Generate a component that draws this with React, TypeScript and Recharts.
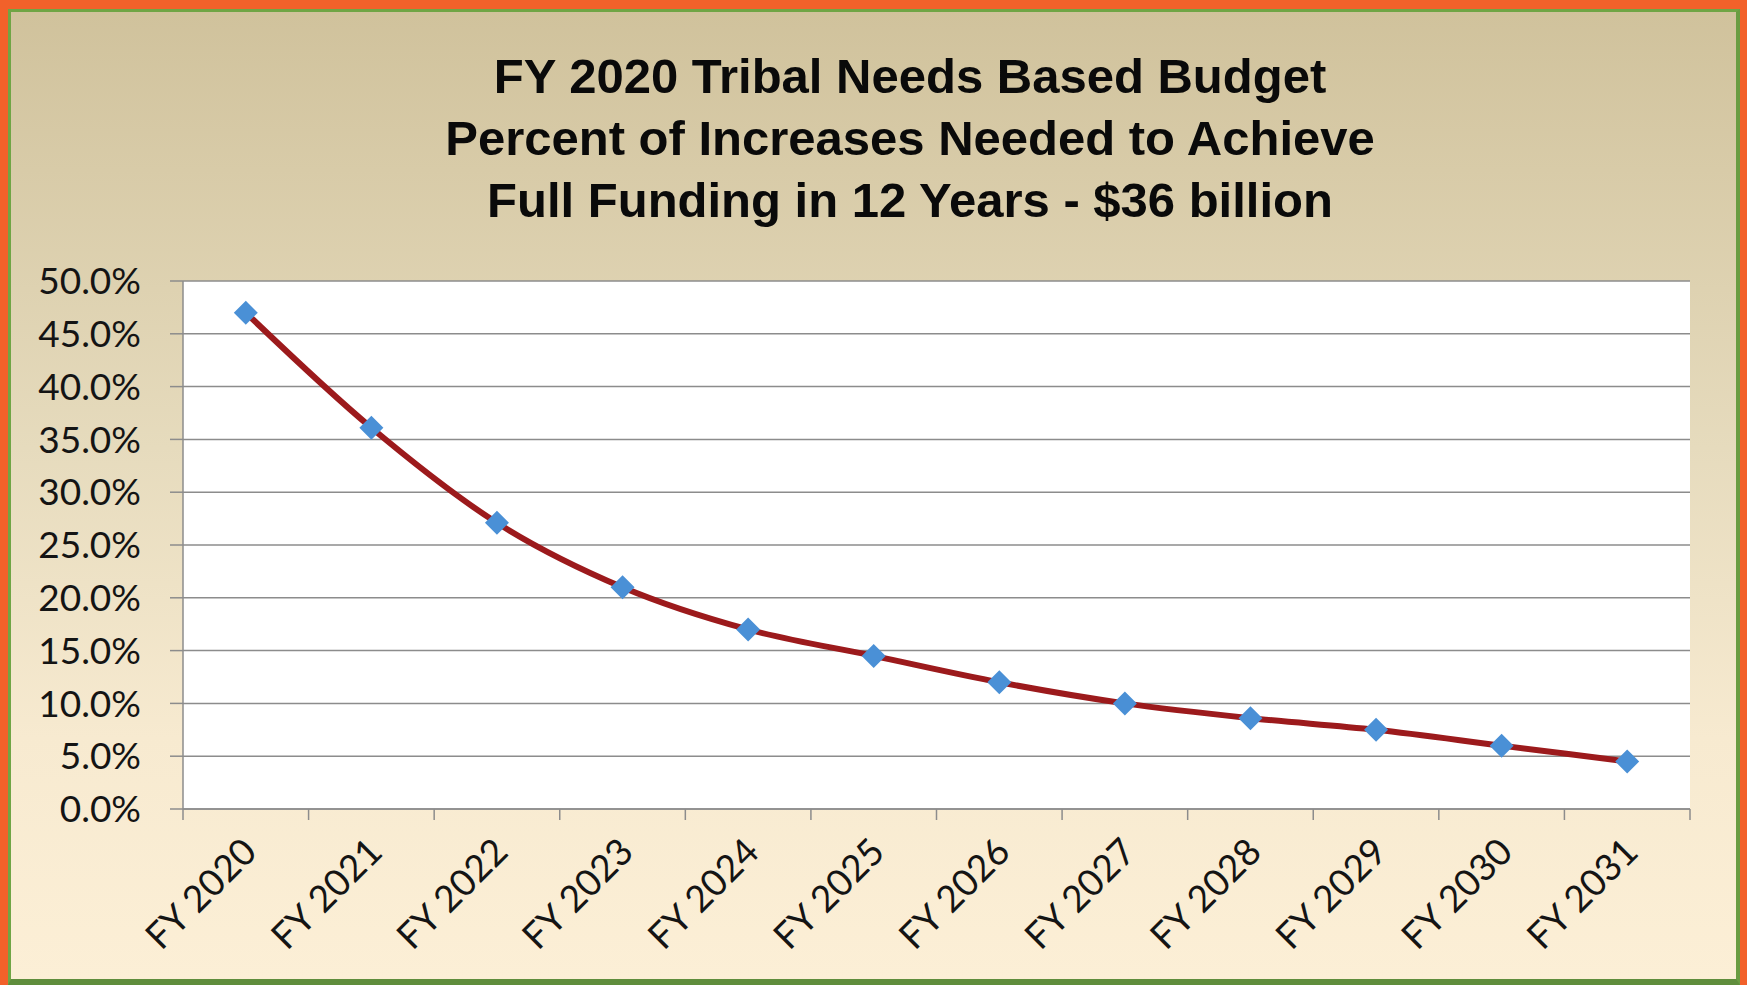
import React from 'react';
import { LineChart, Line, XAxis, YAxis, CartesianGrid } from 'recharts';

const years = [
  'FY 2020', 'FY 2021', 'FY 2022', 'FY 2023', 'FY 2024', 'FY 2025',
  'FY 2026', 'FY 2027', 'FY 2028', 'FY 2029', 'FY 2030', 'FY 2031',
];
const increasePct = [47.0, 36.1, 27.1, 21.0, 17.0, 14.5, 12.0, 10.0, 8.6, 7.5, 6.0, 4.5];
const yTicks = [0, 5, 10, 15, 20, 25, 30, 35, 40, 45, 50];
const titleLines = [
  'FY 2020 Tribal Needs Based Budget',
  'Percent of Increases Needed to Achieve',
  'Full Funding in 12 Years - $36 billion',
];

const data = years.map((year, i) => ({ year, pct: increasePct[i] }));

const W = 1747;
const H = 985;
const labelFont = 'Lato, "Open Sans", sans-serif';

const XTick = (props: any) => {
  const { x, y, payload, index } = props;
  const half = payload.offset ?? 0;
  const ax = x + 13;
  const ay = y + 45;
  return (
    <g>
      <line x1={x - half} y1={y} x2={x - half} y2={y + 11} stroke="#8c8c8c" strokeWidth={1.5} />
      {index === years.length - 1 && (
        <line x1={x + half} y1={y} x2={x + half} y2={y + 11} stroke="#8c8c8c" strokeWidth={1.5} />
      )}
      <text
        x={ax}
        y={ay}
        textAnchor="end"
        transform={`rotate(-45, ${ax}, ${ay})`}
        fontFamily={labelFont}
        fontSize={37}
        fill="#141414"
      >
        {payload.value}
      </text>
    </g>
  );
};

const Diamond = (props: any) => {
  const { cx, cy } = props;
  if (cx == null || cy == null) return null;
  const r = 12;
  return <path d={`M${cx},${cy - r}L${cx + r},${cy}L${cx},${cy + r}L${cx - r},${cy}Z`} fill="#4a90d6" />;
};

export default function App() {
  return (
    <div style={{ position: 'absolute', left: 0, top: 0, width: W, height: H, background: '#f2612a', overflow: 'hidden' }}>
      <div
        style={{
          position: 'absolute',
          left: 8,
          top: 9,
          right: 7,
          bottom: 0,
          borderLeft: '3px solid #6fa545',
          borderTop: '3px solid #6fa545',
          borderRight: '4px solid #6a9c42',
          borderBottom: '6px solid #5f8d3c',
          background: 'linear-gradient(to bottom, #d0c29c 0%, #e6dbbd 45%, #f7ead0 75%, #fcefd6 100%)',
        }}
      />
      <svg width={W} height={250} style={{ position: 'absolute', left: 0, top: 0 }}>
        {titleLines.map((t, i) => (
          <text
            key={t}
            x={910}
            y={93 + i * 62}
            textAnchor="middle"
            fontFamily='"Liberation Sans", Arial, sans-serif'
            fontWeight="bold"
            fontSize={49}
            fill="#0a0a0a"
          >
            {t}
          </text>
        ))}
      </svg>
      <div style={{ position: 'absolute', left: 0, top: 0 }}>
        <LineChart width={W} height={H} data={data} margin={{ top: 281, right: 57, bottom: 0, left: 0 }}>
          <CartesianGrid vertical={false} stroke="#8c8c8c" strokeWidth={1.5} fill="#ffffff" fillOpacity={1} />
          <XAxis
            dataKey="year"
            scale="band"
            height={176}
            stroke="#8c8c8c"
            strokeWidth={1.5}
            tickLine={false}
            tickSize={0}
            tickMargin={0}
            interval={0}
            tick={<XTick />}
          />
          <YAxis
            width={183}
            domain={[0, 50]}
            ticks={yTicks}
            interval={0}
            stroke="#8c8c8c"
            strokeWidth={1.5}
            tickSize={13}
            tickMargin={29}
            tickFormatter={(v: number) => `${v.toFixed(1)}%`}
            tick={{ fontFamily: labelFont, fontSize: 37, fill: '#141414' }}
          />
          <Line
            type="monotone"
            dataKey="pct"
            stroke="#9c1a1c"
            strokeWidth={6}
            dot={<Diamond />}
            activeDot={false}
            isAnimationActive={false}
          />
        </LineChart>
      </div>
    </div>
  );
}
